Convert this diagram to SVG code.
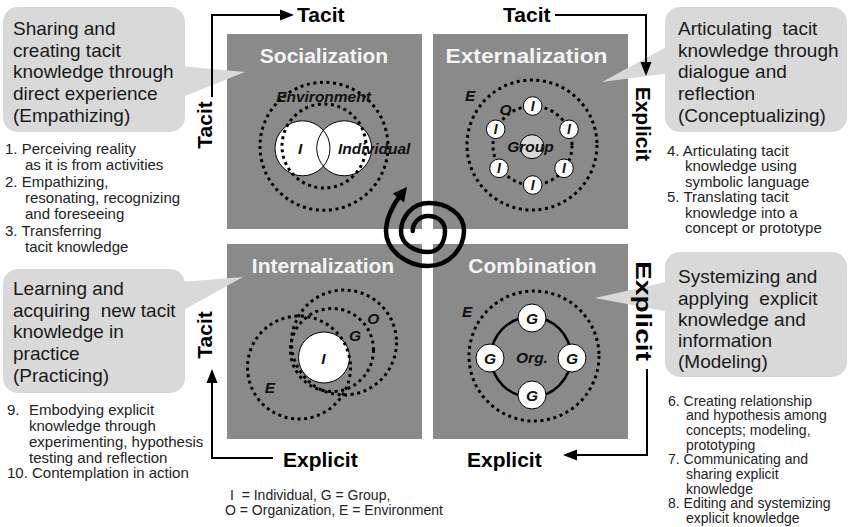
<svg xmlns="http://www.w3.org/2000/svg" width="852" height="527" viewBox="0 0 852 527">
<style>
text{font-family:"Liberation Sans",Arial,Helvetica,sans-serif}
.quad{fill:#8a8a8a}
.title{fill:#f4f4f4;font-size:21px;font-weight:bold;text-anchor:middle}
.lbl{fill:#111;font-size:15.5px;font-weight:bold;font-style:italic}
.mid{text-anchor:middle}
.dot{fill:none;stroke:#000;stroke-width:3;stroke-dasharray:3 3.6}
.wc{fill:#fff;stroke:#000;stroke-width:1}
.callout{fill:#d9d9d9}
.ct{fill:#1a1a1a;font-size:19px}
.lst{fill:#222;font-size:15px}
.lsts{fill:#222;font-size:14px}
.axis{fill:#000;font-size:21px;font-weight:bold}
.ln{fill:none;stroke:#000;stroke-width:2}
.ah{fill:#000}
</style>

<!-- Quadrants -->
<g id="socialization">
  <rect class="quad" x="227" y="34" width="195" height="195"/>
  <text class="title" x="324" y="63">Socialization</text>
  <circle cx="302.5" cy="148.3" r="27.5" fill="#fff"/>
  <circle cx="344.2" cy="148.3" r="27.5" fill="#fff"/>
  <circle cx="302.5" cy="148.3" r="27.5" fill="none" stroke="#000" stroke-width="1"/>
  <circle cx="344.2" cy="148.3" r="27.5" fill="none" stroke="#000" stroke-width="1"/>
  <circle class="dot" cx="324" cy="146.3" r="64"/>
  <circle class="dot" cx="324" cy="146" r="42"/>
  <text class="lbl mid" x="323.5" y="101.5">Environment</text>
  <text class="lbl" x="298" y="154">I</text>
  <text class="lbl" x="338" y="154">Individual</text>
</g>

<g id="externalization">
  <rect class="quad" x="433" y="34" width="195" height="195"/>
  <text class="title" x="526.5" y="63" textLength="162" lengthAdjust="spacingAndGlyphs">Externalization</text>
  <circle class="dot" cx="532" cy="145" r="65"/>
  <circle class="dot" cx="532.5" cy="145.5" r="39.5"/>
  <circle cx="532" cy="146.7" r="12" fill="#d9d9d9" stroke="#000" stroke-width="1"/>
  <text class="lbl mid" x="530.5" y="151.7">Group</text>
  <g>
    <circle class="wc" cx="532.7" cy="106" r="9.3"/>
    <circle class="wc" cx="495.7" cy="129.3" r="9.3"/>
    <circle class="wc" cx="569" cy="129.3" r="9.3"/>
    <circle class="wc" cx="499" cy="168.3" r="9.3"/>
    <circle class="wc" cx="564" cy="168.3" r="9.3"/>
    <circle class="wc" cx="532.7" cy="185" r="9.3"/>
    <text class="lbl mid" style="font-size:14px" x="532.7" y="111">I</text>
    <text class="lbl mid" style="font-size:14px" x="495.7" y="134.3">I</text>
    <text class="lbl mid" style="font-size:14px" x="569" y="134.3">I</text>
    <text class="lbl mid" style="font-size:14px" x="499" y="173.3">I</text>
    <text class="lbl mid" style="font-size:14px" x="564" y="173.3">I</text>
    <text class="lbl mid" style="font-size:14px" x="532.7" y="190">I</text>
  </g>
  <text class="lbl" x="465" y="100.5">E</text>
  <text class="lbl" x="499.5" y="114.5">O</text>
</g>

<g id="internalization">
  <rect class="quad" x="227" y="244" width="195" height="195"/>
  <text class="title" x="323" y="273">Internalization</text>
  <circle class="wc" cx="324" cy="357.5" r="25.5"/>
  <circle class="dot" cx="299" cy="367.5" r="51.5"/>
  <circle class="dot" cx="344" cy="342.5" r="52.5"/>
  <circle class="dot" cx="332" cy="350" r="41.5"/>
  <text class="lbl mid" x="323.3" y="364">I</text>
  <text class="lbl mid" x="355" y="340.5">G</text>
  <text class="lbl mid" x="373.3" y="324">O</text>
  <text class="lbl mid" x="270" y="392.5">E</text>
</g>

<g id="combination">
  <rect class="quad" x="433" y="244" width="195" height="195"/>
  <text class="title" x="532.5" y="273">Combination</text>
  <circle class="dot" cx="534" cy="356" r="65"/>
  <circle cx="531" cy="357" r="40" fill="none" stroke="#000" stroke-width="2.5"/>
  <circle class="wc" cx="532" cy="318" r="14"/>
  <circle class="wc" cx="490" cy="358" r="14"/>
  <circle class="wc" cx="572" cy="358" r="14"/>
  <circle class="wc" cx="532" cy="395" r="14"/>
  <text class="lbl mid" x="532" y="323.5">G</text>
  <text class="lbl mid" x="490" y="363.5">G</text>
  <text class="lbl mid" x="572" y="363.5">G</text>
  <text class="lbl mid" x="532" y="400.5">G</text>
  <text class="lbl mid" x="532" y="363">Org.</text>
  <text class="lbl" x="462" y="317">E</text>
</g>

<!-- Callouts -->
<g id="callout-empathizing">
  <rect class="callout" x="3" y="7" width="182" height="125" rx="15"/>
  <polygon class="callout" points="180,66 245,72 180,98"/>
  <text class="ct"><tspan x="13" y="35">Sharing and</tspan><tspan x="13" y="56.7">creating tacit</tspan><tspan x="13" y="78.3">knowledge through</tspan><tspan x="13" y="100">direct experience</tspan><tspan x="13" y="121.7">(Empathizing)</tspan></text>
</g>
<g id="callout-conceptualizing">
  <rect class="callout" x="665" y="7" width="182" height="125" rx="15"/>
  <polygon class="callout" points="670,45 602,82 670,73"/>
  <text class="ct"><tspan x="678" y="35">Articulating&#160; tacit</tspan><tspan x="678" y="56.7">knowledge through</tspan><tspan x="678" y="78.3">dialogue and</tspan><tspan x="678" y="100">reflection</tspan><tspan x="678" y="121.7">(Conceptualizing)</tspan></text>
</g>
<g id="callout-practicing">
  <rect class="callout" x="3" y="269" width="182" height="124" rx="15"/>
  <polygon class="callout" points="180,282 243,277 180,312"/>
  <text class="ct"><tspan x="13" y="295">Learning and</tspan><tspan x="13" y="316.7">acquiring&#160; new tacit</tspan><tspan x="13" y="338.3">knowledge in</tspan><tspan x="13" y="360">practice</tspan><tspan x="13" y="381.7">(Practicing)</tspan></text>
</g>
<g id="callout-modeling">
  <rect class="callout" x="665" y="252" width="182" height="125" rx="15"/>
  <polygon class="callout" points="670,281 595,298 670,312"/>
  <text class="ct"><tspan x="678" y="283.3">Systemizing and</tspan><tspan x="678" y="304.6">applying&#160; explicit</tspan><tspan x="678" y="325.9">knowledge and</tspan><tspan x="678" y="347.1">information</tspan><tspan x="678" y="368.3">(Modeling)</tspan></text>
</g>

<!-- Lists -->
<g id="list-socialization">
  <text class="lst"><tspan x="5" y="154">1. Perceiving reality</tspan><tspan x="25" y="170.3">as it is from activities</tspan><tspan x="5" y="186.6">2. Empathizing,</tspan><tspan x="25" y="202.9">resonating, recognizing</tspan><tspan x="25" y="219.2">and foreseeing</tspan><tspan x="5" y="235.5">3. Transferring</tspan><tspan x="25" y="251.8">tacit knowledge</tspan></text>
</g>
<g id="list-externalization">
  <text class="lst"><tspan x="667" y="155.7">4. Articulating tacit</tspan><tspan x="685" y="171.2">knowledge using</tspan><tspan x="685" y="186.7">symbolic language</tspan><tspan x="667" y="202.2">5. Translating tacit</tspan><tspan x="685" y="217.7">knowledge into a</tspan><tspan x="685" y="233.2">concept or prototype</tspan></text>
</g>
<g id="list-internalization">
  <text class="lst"><tspan x="7" y="415">9.</tspan><tspan x="29" y="415">Embodying explicit</tspan><tspan x="29" y="430.8">knowledge through</tspan><tspan x="29" y="446.6">experimenting, hypothesis</tspan><tspan x="29" y="462.5">testing and reflection</tspan><tspan x="7" y="478.3">10. Contemplation in action</tspan></text>
</g>
<g id="list-combination">
  <text class="lsts"><tspan x="668" y="405.5">6. Creating relationship</tspan><tspan x="686" y="420.2">and hypothesis among</tspan><tspan x="686" y="434.9">concepts; modeling,</tspan><tspan x="686" y="449.6">prototyping</tspan><tspan x="668" y="464.3">7. Communicating and</tspan><tspan x="686" y="479">sharing explicit</tspan><tspan x="686" y="493.7">knowledge</tspan><tspan x="668" y="508.4">8. Editing and systemizing</tspan><tspan x="686" y="523">explicit knowledge</tspan></text>
</g>

<g id="legend">
  <text class="lsts"><tspan x="230" y="500">I&#160; = Individual, G = Group,</tspan><tspan x="225" y="515">O = Organization, E = Environment</tspan></text>
</g>

<!-- Connectors -->
<g id="connectors">
  <path class="ln" d="M212,97 V15 H281"/>
  <polygon class="ah" points="280,9.5 294,15 280,20.5"/>
  <text class="axis" x="297" y="21.7">Tacit</text>

  <text class="axis" x="503" y="21.7">Tacit</text>
  <path class="ln" d="M555,15 H646 V63"/>
  <polygon class="ah" points="640.5,62 646,76 651.5,62"/>
  <text class="axis" text-anchor="middle" transform="translate(636,124) rotate(90)">Explicit</text>

  <text class="axis" text-anchor="middle" style="font-size:22px" textLength="100" lengthAdjust="spacingAndGlyphs" transform="translate(636,311) rotate(90)">Explicit</text>
  <path class="ln" d="M647,369 V455 H576"/>
  <polygon class="ah" points="577,449.5 563,455 577,460.5"/>
  <text class="axis" x="467" y="466.5">Explicit</text>

  <text class="axis" x="283" y="466.5">Explicit</text>
  <path class="ln" d="M273,458 H212 V382"/>
  <polygon class="ah" points="206.5,383 212,369 217.5,383"/>
  <text class="axis" text-anchor="middle" transform="translate(212,335) rotate(-90)">Tacit</text>
  <text class="axis" text-anchor="middle" transform="translate(212,125) rotate(-90)">Tacit</text>

  <g id="spiral">
    <path d="M412.7,231 C412.7,223 419.1,216 428,216 C436.9,216 445,221.1 445,231 C445,240.9 440.1,252 428,252 C415.9,252 400.7,244.5 401,231 C401.3,217.5 411.6,203 429,203 C446.4,203 464.3,213.6 464,231 C463.7,248.4 449.5,266 428,266 C406.5,266 386,250.3 386,231 C386,220.4 392,206.4 398.5,198" fill="none" stroke="#000" stroke-width="4.5" stroke-linecap="round"/>
    <polygon class="ah" points="407,187 404,202.5 392.8,193.5"/>
  </g>
</g>
</svg>
